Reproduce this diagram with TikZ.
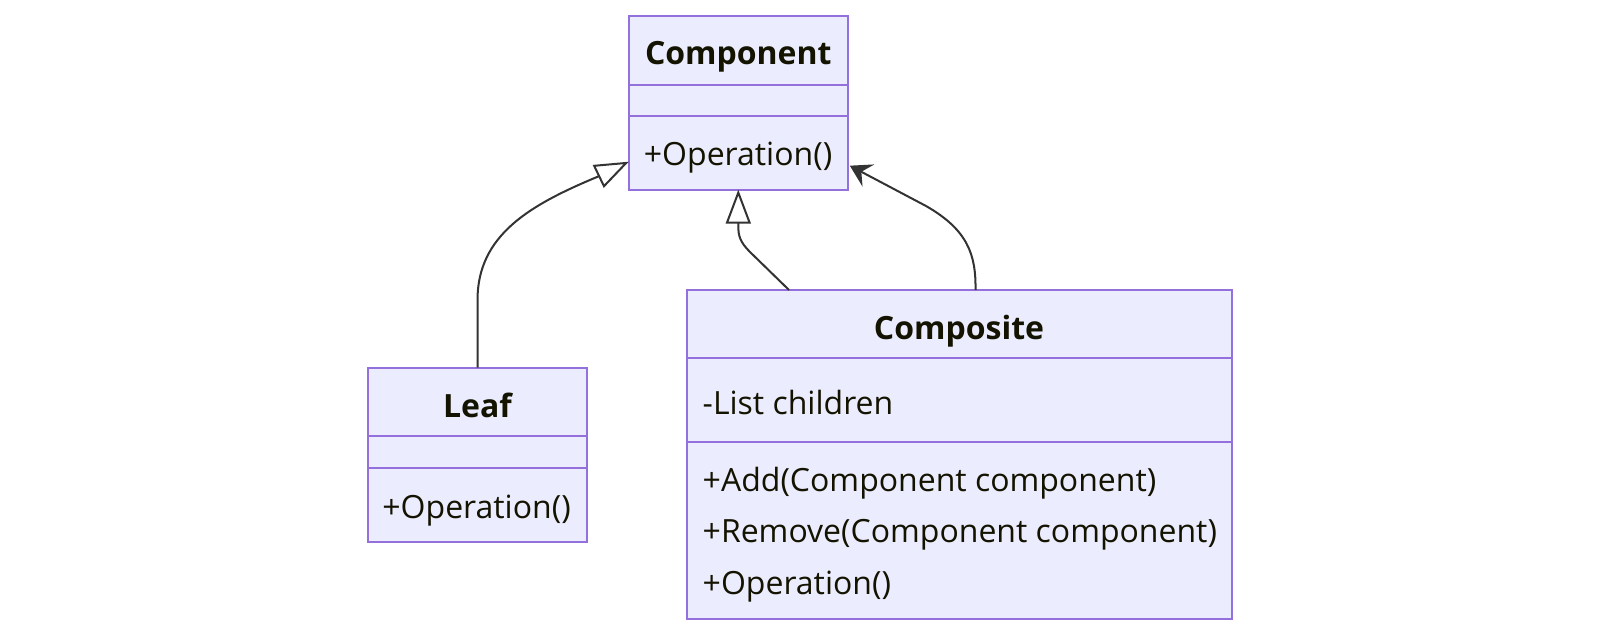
\documentclass[tikz,border=0pt]{standalone}
\usepackage{fontspec}
\setmainfont{Open Sans}
\usetikzlibrary{arrows.meta,calc}
\definecolor{boxfill}{HTML}{ECECFF}
\definecolor{boxline}{HTML}{9370DB}
\definecolor{txt}{HTML}{131300}
\definecolor{edgecol}{HTML}{333333}
\begin{document}
\begin{tikzpicture}[x=1pt,y=-1pt,
  classbox/.style={draw=boxline,fill=boxfill,line width=2pt,inner sep=0pt,outer sep=0pt},
  divider/.style={draw=boxline,line width=2pt},
  title/.style={font=\fontsize{32}{40}\selectfont\bfseries,text=txt,inner sep=0pt,anchor=base},
  member/.style={font=\fontsize{32}{40}\selectfont,text=txt,inner sep=0pt,anchor=base west},
  link/.style={draw=edgecol,line width=2pt},
  inherit/.style={link,-{Triangle[open,length=34pt,width=25pt,fill=white]}},
  assoc/.style={link,-{Stealth[length=21pt,width=25pt,inset=8pt]}}]
\useasboundingbox (0,0) rectangle (1600,636);

% Component
\node[classbox,minimum width=219pt,minimum height=174pt] (comp) at (738.3,102.7) {};
\draw[divider] ($(comp.north west)+(0,69)$) -- ($(comp.north east)+(0,69)$);
\draw[divider] ($(comp.north west)+(0,100.6)$) -- ($(comp.north east)+(0,100.6)$);
\node[title] (compt) at (738.3,64.3) {Component};
\node[member] (compop) at (643.7,165.5) {+Operation()};

% Leaf
\node[classbox,minimum width=219pt,minimum height=174pt] (leaf) at (477.5,454.5) {};
\draw[divider] ($(leaf.north west)+(0,68.5)$) -- ($(leaf.north east)+(0,68.5)$);
\draw[divider] ($(leaf.north west)+(0,100)$) -- ($(leaf.north east)+(0,100)$);
\node[title] (leaft) at (477.5,417) {Leaf};
\node[member] (leafop) at (382.2,518.5) {+Operation()};

% Composite
\node[classbox,minimum width=545pt,minimum height=329.4pt] (cps) at (959,454.7) {};
\draw[divider] ($(cps.north west)+(0,68)$) -- ($(cps.north east)+(0,68)$);
\draw[divider] ($(cps.north west)+(0,152)$) -- ($(cps.north east)+(0,152)$);
\node[title] (cpst) at (959,339) {Composite};
\node[member] (cpsl) at (702.5,414.5) {-List children};
\node[member] (cpsa) at (702.5,491) {+Add(Component component)};
\node[member] (cpsr) at (702.5,542.5) {+Remove(Component component)};
\node[member] (cpso) at (702.5,594) {+Operation()};

% connectors
\coordinate (t1) at ($(comp.south west)+(0,-28)$);
\coordinate (t3) at ($(comp.south east)+(2,-24)$);
\draw[inherit] (leaf.north) -- (477.5,300) .. controls (477.5,235) and (530,205) .. (597,177) -- (t1);
\draw[inherit] ($(cps.north)+(-170,0)$) -- (750,252) .. controls (740,242) and (738.3,236) .. (738.3,226) -- (comp.south);
\draw[assoc] ($(cps.north)+(16.5,0)$) .. controls (976,255) and (968,230) .. (926,206) -- (t3);
\end{tikzpicture}
\end{document}
